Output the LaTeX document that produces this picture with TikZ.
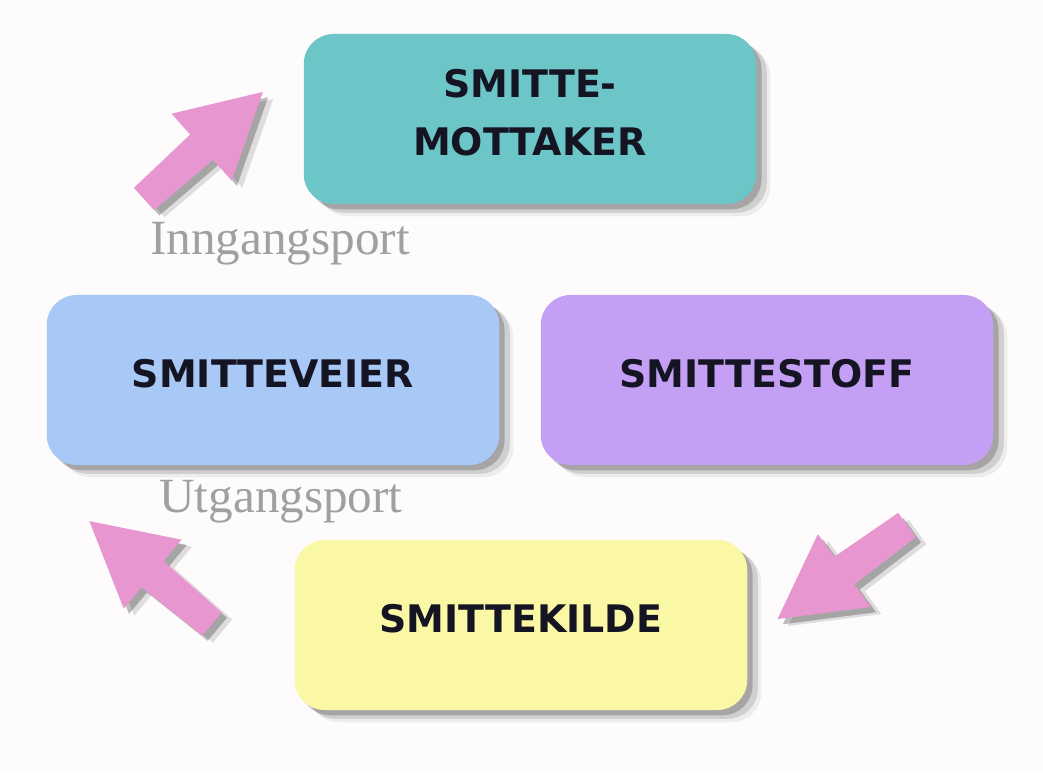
\documentclass[tikz,border=0pt]{standalone}
\usepackage{fontspec}
\setmainfont{Liberation Serif}
\newfontfamily\boxfont{DejaVu Sans}
\usetikzlibrary{shapes,arrows,positioning,shadows}
\definecolor{receivercolor}{RGB}{108,198,200}
\definecolor{routecolor}{RGB}{168,200,245}
\definecolor{agentcolor}{RGB}{196,160,245}
\definecolor{sourcecolor}{RGB}{250,248,165}
\definecolor{arrowcolor}{RGB}{232,150,208}
\definecolor{labelcolor}{RGB}{160,160,160}
\definecolor{textcolor}{RGB}{20,20,35}
\definecolor{bgcolor}{RGB}{253,251,252}
\tikzset{
    link/.style={
        rectangle,
        rounded corners=17pt,
        minimum width=9.05cm,
        minimum height=3.4cm,
        align=center,
        text=textcolor,
        font=\boxfont\bfseries\fontsize{21.6}{33}\selectfont,
        drop shadow={shadow xshift=3pt, shadow yshift=-3pt, fill=black, opacity=.2},
        drop shadow={shadow xshift=6pt, shadow yshift=-5pt, fill=black, opacity=.12},
        drop shadow={shadow xshift=8pt, shadow yshift=-7pt, fill=black, opacity=.06}
    },
    onelink/.style={link, text height=15.7pt, text depth=7pt},
    receiverlink/.style={link, fill=receivercolor, text depth=8pt},
    routelink/.style={onelink, fill=routecolor},
    agentlink/.style={onelink, fill=agentcolor},
    sourcelink/.style={onelink, fill=sourcecolor},
    portlabel/.style={anchor=base, text=labelcolor, font=\fontsize{28}{30}\selectfont},
    pics/blockarrow/.style={code={
        \fill[arrowcolor,
              drop shadow={shadow xshift=3pt, shadow yshift=-3pt, fill=black, opacity=.25},
              drop shadow={shadow xshift=6pt, shadow yshift=-4pt, fill=black, opacity=.12}]
            (0,-0.3) -- (1.55,-0.34) -- (1.55,-0.9) -- (3.2,0)
            -- (1.55,0.9) -- (1.55,0.34) -- (0,0.3) -- cycle;
    }}
}
\begin{document}
\begin{tikzpicture}
    \fill[bgcolor] (0,0) rectangle (20.86,15.46);
    \useasboundingbox (0,0) rectangle (20.86,15.46);

    % Chain links
    \node[receiverlink] (receiver) at (10.6,13.08) {SMITTE-\\MOTTAKER};
    \node[routelink] (route) at (5.46,7.86) {SMITTEVEIER};
    \node[agentlink] (agent) at (15.34,7.86) {SMITTESTOFF};
    \node[sourcelink] (source) at (10.42,2.96) {SMITTEKILDE};

    % Arrows between links
    \pic (inarrow) [rotate=42] at (2.88,11.48) {blockarrow};
    \pic (outarrow) [rotate=140] at (4.24,2.98) {blockarrow};
    \pic (srcarrow) [rotate=216] at (18.14,4.96) {blockarrow};

    % Port labels
    \node[portlabel] (inport) at (5.6,10.36) {Inngangsport};
    \node[portlabel] (outport) at (5.62,5.22) {Utgangsport};
\end{tikzpicture}
\end{document}
